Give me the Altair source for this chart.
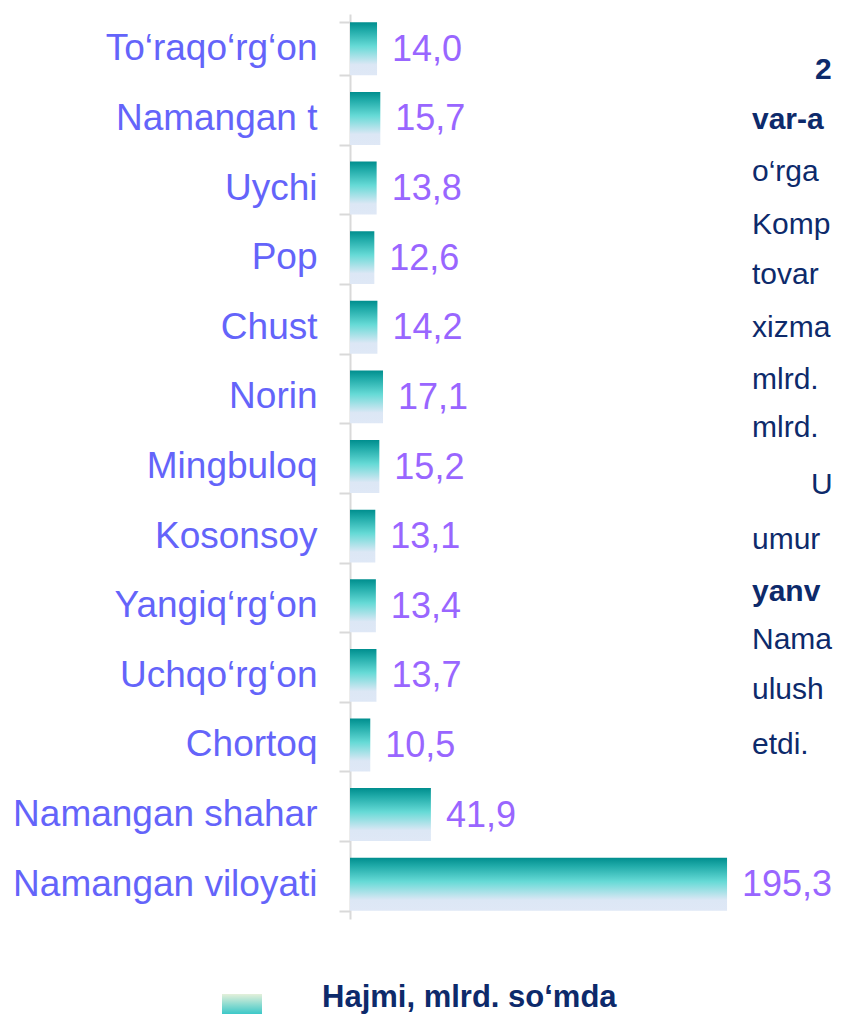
import altair as alt
import pandas as pd

# ---- data ----
categories = [
    "To‘raqo‘rg‘on", "Namangan t", "Uychi", "Pop", "Chust", "Norin",
    "Mingbuloq", "Kosonsoy", "Yangiq‘rg‘on", "Uchqo‘rg‘on", "Chortoq",
    "Namangan shahar", "Namangan viloyati",
]
values = [14.0, 15.7, 13.8, 12.6, 14.2, 17.1, 15.2, 13.1, 13.4, 13.7, 10.5, 41.9, 195.3]
value_labels = ["14,0", "15,7", "13,8", "12,6", "14,2", "17,1", "15,2", "13,1",
                "13,4", "13,7", "10,5", "41,9", "195,3"]
legend_label = "Hajmi, mlrd. so‘mda"

# clipped document text visible at the right edge
side_text = ["2", "var-a", "o‘rga", "Komp", "tovar", "xizma", "mlrd.", "mlrd.",
             "U", "umur", "yanv", "Nama", "ulush", "etdi."]
side_bold = [True, True, False, False, False, False, False, False,
             False, False, True, False, False, False]

FONT = "Liberation Sans"
df = pd.DataFrame({"region": categories, "value": values, "label": value_labels})

bar_grad = alt.Gradient(
    gradient="linear",
    stops=[
        alt.GradientStop(color="#008E8E", offset=0),
        alt.GradientStop(color="#1FAAA8", offset=0.15),
        alt.GradientStop(color="#66DAD6", offset=0.45),
        alt.GradientStop(color="#DCE7F5", offset=0.8),
        alt.GradientStop(color="#DFE8F6", offset=1),
    ],
    x1=0, x2=0, y1=0, y2=1,
)
legend_grad = alt.Gradient(
    gradient="linear",
    stops=[
        alt.GradientStop(color="#E4F0DA", offset=0),
        alt.GradientStop(color="#3CC8C8", offset=1),
    ],
    x1=0, x2=0, y1=0, y2=1,
)

y_enc = alt.Y(
    "region:N", sort=categories,
    scale=alt.Scale(paddingInner=0.24, paddingOuter=0.12),
    axis=alt.Axis(
        title=None, labelFont=FONT, labelFontSize=37, labelColor="#6464FA",
        labelPadding=22, domainColor="#D9D9D9", domainWidth=2,
        tickColor="#D9D9D9", tickWidth=2, tickSize=11, tickBand="extent",
        grid=False, labelLimit=400,
    ),
)
x_enc = alt.X("value:Q", scale=alt.Scale(domain=[0, 250.7], nice=False, zero=True), axis=None)

bars = alt.Chart(df).mark_bar(color=bar_grad).encode(x=x_enc, y=y_enc)
vals = alt.Chart(df).mark_text(
    align="left", baseline="middle", dx=15, dy=1, font=FONT, fontSize=36, color="#9966FF"
).encode(x=x_enc, y=y_enc, text="label:N")

one = pd.DataFrame({"t": [legend_label]})
swatch = alt.Chart(one).mark_rect(color=legend_grad).encode(
    x=alt.value(-128), x2=alt.value(-88), y=alt.value(980), y2=alt.value(1000)
)
leg_text = alt.Chart(one).mark_text(
    align="left", baseline="alphabetic", font=FONT, fontSize=31, fontWeight="bold", color="#0D2A6B"
).encode(x=alt.value(-28), y=alt.value(993), text="t:N")

side_y = [56, 106, 158, 211, 261, 314, 366, 414, 471, 526, 578, 626, 676, 731]
side_x = [465, 402, 402, 402, 402, 402, 402, 402, 461, 402, 402, 402, 402, 402]
side_layers = []
for t, b, xx, yy in zip(side_text, side_bold, side_x, side_y):
    side_layers.append(
        alt.Chart(pd.DataFrame({"t": [t]})).mark_text(
            align="left", baseline="middle", font=FONT, fontSize=30,
            fontWeight="bold" if b else "normal", color="#0D2A6B"
        ).encode(x=alt.value(xx), y=alt.value(yy), text="t:N")
    )

chart = alt.layer(bars, vals, swatch, leg_text, *side_layers).properties(
    width=484, height=905,
    padding={"left": 342, "top": 6, "right": 0, "bottom": 95},
    autosize=alt.AutoSizeParams(type="none"),
).configure_view(stroke=None)

chart.save("out.html", embed_options={"renderer": "svg", "actions": False})
